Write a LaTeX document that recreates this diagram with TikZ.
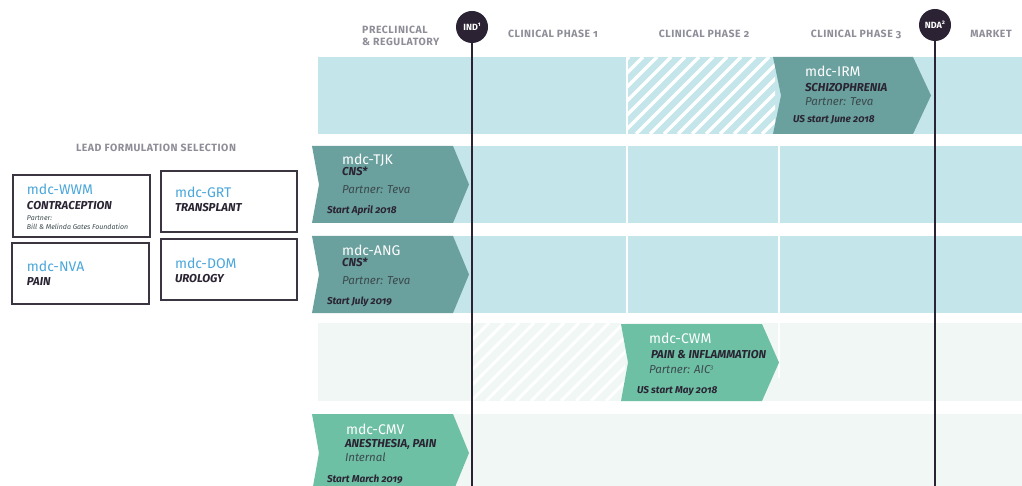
\documentclass[tikz,border=0pt]{standalone}
\usepackage{fontspec}
\setmainfont{Fira Sans}[Numbers=OldStyle]
\newfontfamily\hdrfont{Fira Sans}[Numbers=OldStyle,LetterSpace=5]
\definecolor{lblue}{HTML}{C4E5E9}
\definecolor{vlight}{HTML}{F0F7F5}
\definecolor{dteal}{HTML}{6AA09E}
\definecolor{lgreen}{HTML}{6EC0A5}
\definecolor{darktxt}{HTML}{2A2433}
\definecolor{midtxt}{HTML}{3C4A4D}
\definecolor{bluetxt}{HTML}{4AA7DB}
\definecolor{hdrgray}{HTML}{8E8E98}
\definecolor{linecol}{HTML}{2B2233}
\definecolor{boxline}{HTML}{3A3540}
\newcommand\sz[1]{\fontsize{#1}{#1}\selectfont}
\newcommand\supr[1]{\raisebox{3.5pt}{\sz{6}#1}}
\begin{document}
\begin{tikzpicture}[x=1pt,y=-1pt,
  txt/.style={anchor=base west,inner sep=0pt,outer sep=0pt},
  hdr/.style={inner sep=0pt,text=hdrgray,font=\hdrfont\bfseries\sz{10.5}},
  codew/.style={txt,text=white,font=\sz{14}},
  codeb/.style={txt,text=bluetxt,font=\sz{14}},
  indic/.style={txt,text=darktxt,font=\bfseries\itshape\sz{11.5}},
  partner/.style={txt,text=midtxt,font=\itshape\sz{11.5}},
  start/.style={txt,text=darktxt,font=\bfseries\itshape\sz{10}},
  leadbox/.style={draw=boxline,line width=1.4pt,fill=white},
  milestone/.style={circle,fill=linecol,minimum size=32pt,inner sep=0pt,text=white,font=\bfseries\sz{9}},
  vline/.style={draw=linecol,line width=2pt},
  divider/.style={draw=white,line width=2pt},
  hatch/.style={draw=white,line width=3.5pt},
  hatchfaint/.style={draw=white,line width=3pt}
]
\useasboundingbox (0,0) rectangle (1022,486);
\fill[white] (0,0) rectangle (1022,486);
% ---------- rows background ----------
\fill[lblue] (318,57) rectangle (1022,134);
\fill[lblue] (400,146) rectangle (1022,223);
\fill[lblue] (400,236) rectangle (1022,313);
\fill[vlight] (318,323) rectangle (1022,401);
\fill[vlight] (318,414) rectangle (1022,486);
% hatch row 1
\begin{scope}
  \clip (628,57) rectangle (775,134);
  \foreach \x in {552,566,...,780} \draw[hatch] (\x,134) -- ++(77,-77);
\end{scope}
% hatch row 4 (faint)
\begin{scope}
  \clip (473,323) rectangle (625,401);
  \foreach \x in {396,411,...,630} \draw[hatchfaint] (\x,401) -- ++(78,-78);
\end{scope}
% dividers
\draw[divider] (627,57) -- (627,134);
\draw[divider] (627,146) -- (627,223);
\draw[divider] (627,236) -- (627,313);
\draw[divider] (779,146) -- (779,223);
\draw[divider] (779,236) -- (779,313);
\draw[divider] (779,323) -- (779,378);
% ---------- chevrons ----------
\fill[dteal] (773,57) -- (913,57) -- (931,95.5) -- (913,134) -- (773,134) -- (781,95.5) -- cycle;
\fill[dteal] (312,146) -- (453,146) -- (469,184.5) -- (453,223) -- (312,223) -- (319,184.5) -- cycle;
\fill[dteal] (312,236) -- (453,236) -- (469,274.5) -- (453,313) -- (312,313) -- (319,274.5) -- cycle;
\fill[lgreen] (621,324) -- (762,324) -- (779,362.5) -- (762,401) -- (621,401) -- (628,362.5) -- cycle;
\fill[lgreen] (312,414) -- (453,414) -- (469,453) -- (453,492) -- (312,492) -- (319,453) -- cycle;
% ---------- milestone lines ----------
\node[milestone] (ind) at (472,27) {IND\supr{1}};
\node[milestone] (nda) at (935,25) {NDA\supr{2}};
\coordinate (indend) at (472,486);
\coordinate (ndaend) at (935,486);
\draw[vline] (ind) -- (indend);
\draw[vline] (nda) -- (ndaend);
% ---------- headers ----------
\node[hdr,anchor=base west,align=left] (pre1) at (362,34) {PRECLINICAL};
\node[hdr,anchor=base west,align=left] (pre2) at (362,46) {\& REGULATORY};
\node[hdr,anchor=base] (ph1) at (553,38) {CLINICAL PHASE 1};
\node[hdr,anchor=base] (ph2) at (704,38) {CLINICAL PHASE 2};
\node[hdr,anchor=base] (ph3) at (856,38) {CLINICAL PHASE 3};
\node[hdr,anchor=base] (mkt) at (991,38) {MARKET};
\node[hdr,anchor=base] (lead) at (156,152) {LEAD FORMULATION SELECTION};
% ---------- lead boxes ----------
\draw[leadbox] (13,175) rectangle (150,237);
\draw[leadbox] (161,171) rectangle (297,232);
\draw[leadbox] (12,243) rectangle (149,304);
\draw[leadbox] (161,239) rectangle (297,300);
\node[codeb] (wwm) at (27,195) {mdc-WWM};
\node[indic] (wwmi) at (27,210) {CONTRACEPTION};
\node[txt,text=midtxt,font=\itshape\sz{7}] (wwmp) at (27,221) {Partner:};
\node[txt,text=midtxt,font=\itshape\sz{7}] (wwmp2) at (27,229.5) {Bill \& Melinda Gates Foundation};
\node[codeb] (grt) at (175,198) {mdc-GRT};
\node[indic] (grti) at (175,212) {TRANSPLANT};
\node[codeb] (nva) at (27,272) {mdc-NVA};
\node[indic] (nvai) at (27,285) {PAIN};
\node[codeb] (dom) at (175,269) {mdc-DOM};
\node[indic] (domi) at (175,282) {UROLOGY};
% ---------- chevron texts ----------
\node[codew] (irm) at (805,77) {mdc-IRM};
\node[indic] (irmi) at (805,92) {SCHIZOPHRENIA};
\node[partner] (irmp) at (805,106) {Partner: Teva};
\node[start] (irms) at (793,123) {US start June 2018};
\node[codew] (tjk) at (342,165) {mdc-TJK};
\node[indic] (tjki) at (342,176) {CNS*};
\node[partner] (tjkp) at (342,194) {Partner: Teva};
\node[start] (tjks) at (327,214) {Start April 2018};
\node[codew] (ang) at (342,255) {mdc-ANG};
\node[indic] (angi) at (342,266) {CNS*};
\node[partner] (angp) at (342,284) {Partner: Teva};
\node[start] (angs) at (327,304) {Start July 2019};
\node[codew] (cwm) at (649,343) {mdc-CWM};
\node[indic] (cwmi) at (651,358) {PAIN \& INFLAMMATION};
\node[partner] (cwmp) at (649,373) {Partner: AIC\supr{3}};
\node[start] (cwms) at (637,393) {US start May 2018};
\node[codew] (cmv) at (346,434) {mdc-CMV};
\node[indic] (cmvi) at (345,447) {ANESTHESIA, PAIN};
\node[partner] (cmvp) at (345,461) {Internal};
\node[start] (cmvs) at (327,482.5) {Start March 2019};
\end{tikzpicture}
\end{document}
